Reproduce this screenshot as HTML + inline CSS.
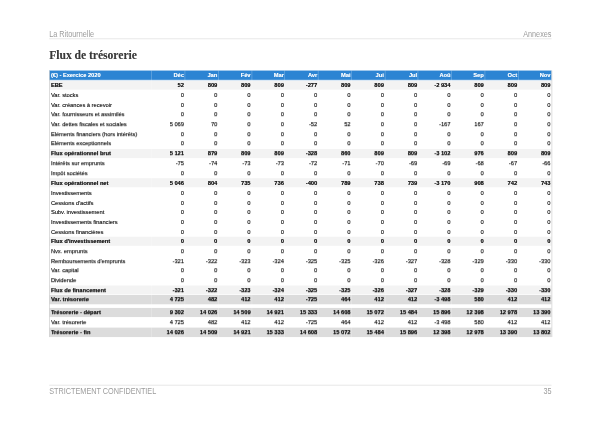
<!DOCTYPE html>
<html><head><meta charset="utf-8"><style>
html,body{margin:0;padding:0;background:#fff;}
body{width:600px;height:424px;position:relative;overflow:hidden;font-family:"Liberation Sans",sans-serif;text-rendering:auto;}
#pg{position:absolute;left:0;top:0;width:842.000px;height:595.013px;transform-origin:0 0;transform:scale(0.712589);filter:blur(0.3px);will-change:auto;}
.a{position:absolute;white-space:nowrap;line-height:1;}
.hd{font-size:10.230px;color:#9c9c9c;transform:scaleY(1.12);transform-origin:0 85%;text-shadow:none;}
.ln{position:absolute;left:69.184px;width:704.754px;height:0.772px;background:#dedede;}
.ttl{font-family:"Liberation Serif",serif;font-weight:bold;font-size:16.209px;color:#383838;text-shadow:0.3px 0 0 rgba(0,0,0,0.3);}
.r{position:absolute;left:69.184px;width:704.754px;}
.r span{position:absolute;white-space:nowrap;line-height:1;}
.tb{font-size:7.999px;color:#1a1a1a;text-shadow:0.5px 0 0 rgba(0,0,0,0.35), 0 0.8px 0 rgba(0,0,0,0.3);}
.tb .b span,.tb .t span{text-shadow:0.35px 0 0 rgba(0,0,0,0.45), 0 0.5px 0 rgba(0,0,0,0.3);}
.tb .hr span{text-shadow:0.3px 0 0 rgba(255,255,255,0.5);}
.hr{background:#2c84d3;color:#fff;font-weight:bold;}
.b{background:#f3f3f3;font-weight:bold;}
.t{background:#dcdcdc;font-weight:bold;}
.sp{position:absolute;background:rgba(255,255,255,0.3);}
</style></head><body><div id="wr" style="position:absolute;left:0;top:0;width:600px;height:424px;filter:none;"><div id="pg">
<div class="a hd" style="left:69.044px;top:44.065px;">La Ritournelle</div>
<div class="a hd" style="right:68.062px;top:44.065px;">Annexes</div>
<div class="ln" style="top:53.958px;"></div>
<div class="a ttl" style="left:69.184px;top:70.307px;">Flux de trésorerie</div>
<div class="tb">
<div class="r hr" style="top:98.865px;height:13.963px;"><span style="left:2.245px;top:2.982px;">(€) - Exercice 2020</span><span style="right:515.842px;top:2.982px;">Déc</span><span style="right:469.088px;top:2.982px;">Jan</span><span style="right:422.333px;top:2.982px;">Fév</span><span style="right:375.579px;top:2.982px;">Mar</span><span style="right:328.824px;top:2.982px;">Avr</span><span style="right:282.070px;top:2.982px;">Mai</span><span style="right:235.316px;top:2.982px;">Jui</span><span style="right:188.561px;top:2.982px;">Jul</span><span style="right:141.807px;top:2.982px;">Aoû</span><span style="right:95.052px;top:2.982px;">Sep</span><span style="right:48.298px;top:2.982px;">Oct</span><span style="right:1.544px;top:2.982px;">Nov</span></div>
<div class="r b" style="top:112.828px;height:13.675px;"><span style="left:2.245px;top:3.610px;">EBE</span><span style="right:515.842px;top:3.610px;">52</span><span style="right:469.088px;top:3.610px;">809</span><span style="right:422.333px;top:3.610px;">809</span><span style="right:375.579px;top:3.610px;">809</span><span style="right:328.824px;top:3.610px;">-277</span><span style="right:282.070px;top:3.610px;">809</span><span style="right:235.316px;top:3.610px;">809</span><span style="right:188.561px;top:3.610px;">809</span><span style="right:141.807px;top:3.610px;">-2 934</span><span style="right:95.052px;top:3.610px;">809</span><span style="right:48.298px;top:3.610px;">809</span><span style="right:1.544px;top:3.610px;">809</span></div>
<div class="r " style="top:126.503px;height:13.675px;"><span style="left:2.245px;top:3.610px;">Var. stocks</span><span style="right:515.842px;top:3.610px;">0</span><span style="right:469.088px;top:3.610px;">0</span><span style="right:422.333px;top:3.610px;">0</span><span style="right:375.579px;top:3.610px;">0</span><span style="right:328.824px;top:3.610px;">0</span><span style="right:282.070px;top:3.610px;">0</span><span style="right:235.316px;top:3.610px;">0</span><span style="right:188.561px;top:3.610px;">0</span><span style="right:141.807px;top:3.610px;">0</span><span style="right:95.052px;top:3.610px;">0</span><span style="right:48.298px;top:3.610px;">0</span><span style="right:1.544px;top:3.610px;">0</span></div>
<div class="r " style="top:140.179px;height:13.675px;"><span style="left:2.245px;top:3.610px;">Var. créances à recevoir</span><span style="right:515.842px;top:3.610px;">0</span><span style="right:469.088px;top:3.610px;">0</span><span style="right:422.333px;top:3.610px;">0</span><span style="right:375.579px;top:3.610px;">0</span><span style="right:328.824px;top:3.610px;">0</span><span style="right:282.070px;top:3.610px;">0</span><span style="right:235.316px;top:3.610px;">0</span><span style="right:188.561px;top:3.610px;">0</span><span style="right:141.807px;top:3.610px;">0</span><span style="right:95.052px;top:3.610px;">0</span><span style="right:48.298px;top:3.610px;">0</span><span style="right:1.544px;top:3.610px;">0</span></div>
<div class="r " style="top:153.854px;height:13.675px;"><span style="left:2.245px;top:3.610px;">Var. fournisseurs et assimilés</span><span style="right:515.842px;top:3.610px;">0</span><span style="right:469.088px;top:3.610px;">0</span><span style="right:422.333px;top:3.610px;">0</span><span style="right:375.579px;top:3.610px;">0</span><span style="right:328.824px;top:3.610px;">0</span><span style="right:282.070px;top:3.610px;">0</span><span style="right:235.316px;top:3.610px;">0</span><span style="right:188.561px;top:3.610px;">0</span><span style="right:141.807px;top:3.610px;">0</span><span style="right:95.052px;top:3.610px;">0</span><span style="right:48.298px;top:3.610px;">0</span><span style="right:1.544px;top:3.610px;">0</span></div>
<div class="r " style="top:167.530px;height:13.675px;"><span style="left:2.245px;top:3.610px;">Var. dettes fiscales et sociales</span><span style="right:515.842px;top:3.610px;">5 069</span><span style="right:469.088px;top:3.610px;">70</span><span style="right:422.333px;top:3.610px;">0</span><span style="right:375.579px;top:3.610px;">0</span><span style="right:328.824px;top:3.610px;">-52</span><span style="right:282.070px;top:3.610px;">52</span><span style="right:235.316px;top:3.610px;">0</span><span style="right:188.561px;top:3.610px;">0</span><span style="right:141.807px;top:3.610px;">-167</span><span style="right:95.052px;top:3.610px;">167</span><span style="right:48.298px;top:3.610px;">0</span><span style="right:1.544px;top:3.610px;">0</span></div>
<div class="r " style="top:181.205px;height:13.675px;"><span style="left:2.245px;top:3.610px;">Eléments financiers (hors intérêts)</span><span style="right:515.842px;top:3.610px;">0</span><span style="right:469.088px;top:3.610px;">0</span><span style="right:422.333px;top:3.610px;">0</span><span style="right:375.579px;top:3.610px;">0</span><span style="right:328.824px;top:3.610px;">0</span><span style="right:282.070px;top:3.610px;">0</span><span style="right:235.316px;top:3.610px;">0</span><span style="right:188.561px;top:3.610px;">0</span><span style="right:141.807px;top:3.610px;">0</span><span style="right:95.052px;top:3.610px;">0</span><span style="right:48.298px;top:3.610px;">0</span><span style="right:1.544px;top:3.610px;">0</span></div>
<div class="r " style="top:194.881px;height:13.675px;"><span style="left:2.245px;top:3.610px;">Eléments exceptionnels</span><span style="right:515.842px;top:3.610px;">0</span><span style="right:469.088px;top:3.610px;">0</span><span style="right:422.333px;top:3.610px;">0</span><span style="right:375.579px;top:3.610px;">0</span><span style="right:328.824px;top:3.610px;">0</span><span style="right:282.070px;top:3.610px;">0</span><span style="right:235.316px;top:3.610px;">0</span><span style="right:188.561px;top:3.610px;">0</span><span style="right:141.807px;top:3.610px;">0</span><span style="right:95.052px;top:3.610px;">0</span><span style="right:48.298px;top:3.610px;">0</span><span style="right:1.544px;top:3.610px;">0</span></div>
<div class="r b" style="top:208.556px;height:13.675px;"><span style="left:2.245px;top:3.610px;">Flux opérationnel brut</span><span style="right:515.842px;top:3.610px;">5 121</span><span style="right:469.088px;top:3.610px;">879</span><span style="right:422.333px;top:3.610px;">809</span><span style="right:375.579px;top:3.610px;">809</span><span style="right:328.824px;top:3.610px;">-328</span><span style="right:282.070px;top:3.610px;">860</span><span style="right:235.316px;top:3.610px;">809</span><span style="right:188.561px;top:3.610px;">809</span><span style="right:141.807px;top:3.610px;">-3 102</span><span style="right:95.052px;top:3.610px;">976</span><span style="right:48.298px;top:3.610px;">809</span><span style="right:1.544px;top:3.610px;">809</span></div>
<div class="r " style="top:222.232px;height:13.675px;"><span style="left:2.245px;top:3.610px;">Intérêts sur emprunts</span><span style="right:515.842px;top:3.610px;">-75</span><span style="right:469.088px;top:3.610px;">-74</span><span style="right:422.333px;top:3.610px;">-73</span><span style="right:375.579px;top:3.610px;">-73</span><span style="right:328.824px;top:3.610px;">-72</span><span style="right:282.070px;top:3.610px;">-71</span><span style="right:235.316px;top:3.610px;">-70</span><span style="right:188.561px;top:3.610px;">-69</span><span style="right:141.807px;top:3.610px;">-69</span><span style="right:95.052px;top:3.610px;">-68</span><span style="right:48.298px;top:3.610px;">-67</span><span style="right:1.544px;top:3.610px;">-66</span></div>
<div class="r " style="top:235.907px;height:13.675px;"><span style="left:2.245px;top:3.610px;">Impôt sociétés</span><span style="right:515.842px;top:3.610px;">0</span><span style="right:469.088px;top:3.610px;">0</span><span style="right:422.333px;top:3.610px;">0</span><span style="right:375.579px;top:3.610px;">0</span><span style="right:328.824px;top:3.610px;">0</span><span style="right:282.070px;top:3.610px;">0</span><span style="right:235.316px;top:3.610px;">0</span><span style="right:188.561px;top:3.610px;">0</span><span style="right:141.807px;top:3.610px;">0</span><span style="right:95.052px;top:3.610px;">0</span><span style="right:48.298px;top:3.610px;">0</span><span style="right:1.544px;top:3.610px;">0</span></div>
<div class="r b" style="top:249.583px;height:13.675px;"><span style="left:2.245px;top:3.610px;">Flux opérationnel net</span><span style="right:515.842px;top:3.610px;">5 046</span><span style="right:469.088px;top:3.610px;">804</span><span style="right:422.333px;top:3.610px;">735</span><span style="right:375.579px;top:3.610px;">736</span><span style="right:328.824px;top:3.610px;">-400</span><span style="right:282.070px;top:3.610px;">789</span><span style="right:235.316px;top:3.610px;">738</span><span style="right:188.561px;top:3.610px;">739</span><span style="right:141.807px;top:3.610px;">-3 170</span><span style="right:95.052px;top:3.610px;">908</span><span style="right:48.298px;top:3.610px;">742</span><span style="right:1.544px;top:3.610px;">743</span></div>
<div class="r " style="top:263.258px;height:13.675px;"><span style="left:2.245px;top:3.610px;">Investissements</span><span style="right:515.842px;top:3.610px;">0</span><span style="right:469.088px;top:3.610px;">0</span><span style="right:422.333px;top:3.610px;">0</span><span style="right:375.579px;top:3.610px;">0</span><span style="right:328.824px;top:3.610px;">0</span><span style="right:282.070px;top:3.610px;">0</span><span style="right:235.316px;top:3.610px;">0</span><span style="right:188.561px;top:3.610px;">0</span><span style="right:141.807px;top:3.610px;">0</span><span style="right:95.052px;top:3.610px;">0</span><span style="right:48.298px;top:3.610px;">0</span><span style="right:1.544px;top:3.610px;">0</span></div>
<div class="r " style="top:276.934px;height:13.675px;"><span style="left:2.245px;top:3.610px;">Cessions d'actifs</span><span style="right:515.842px;top:3.610px;">0</span><span style="right:469.088px;top:3.610px;">0</span><span style="right:422.333px;top:3.610px;">0</span><span style="right:375.579px;top:3.610px;">0</span><span style="right:328.824px;top:3.610px;">0</span><span style="right:282.070px;top:3.610px;">0</span><span style="right:235.316px;top:3.610px;">0</span><span style="right:188.561px;top:3.610px;">0</span><span style="right:141.807px;top:3.610px;">0</span><span style="right:95.052px;top:3.610px;">0</span><span style="right:48.298px;top:3.610px;">0</span><span style="right:1.544px;top:3.610px;">0</span></div>
<div class="r " style="top:290.609px;height:13.675px;"><span style="left:2.245px;top:3.610px;">Subv. investissement</span><span style="right:515.842px;top:3.610px;">0</span><span style="right:469.088px;top:3.610px;">0</span><span style="right:422.333px;top:3.610px;">0</span><span style="right:375.579px;top:3.610px;">0</span><span style="right:328.824px;top:3.610px;">0</span><span style="right:282.070px;top:3.610px;">0</span><span style="right:235.316px;top:3.610px;">0</span><span style="right:188.561px;top:3.610px;">0</span><span style="right:141.807px;top:3.610px;">0</span><span style="right:95.052px;top:3.610px;">0</span><span style="right:48.298px;top:3.610px;">0</span><span style="right:1.544px;top:3.610px;">0</span></div>
<div class="r " style="top:304.285px;height:13.675px;"><span style="left:2.245px;top:3.610px;">Investissements financiers</span><span style="right:515.842px;top:3.610px;">0</span><span style="right:469.088px;top:3.610px;">0</span><span style="right:422.333px;top:3.610px;">0</span><span style="right:375.579px;top:3.610px;">0</span><span style="right:328.824px;top:3.610px;">0</span><span style="right:282.070px;top:3.610px;">0</span><span style="right:235.316px;top:3.610px;">0</span><span style="right:188.561px;top:3.610px;">0</span><span style="right:141.807px;top:3.610px;">0</span><span style="right:95.052px;top:3.610px;">0</span><span style="right:48.298px;top:3.610px;">0</span><span style="right:1.544px;top:3.610px;">0</span></div>
<div class="r " style="top:317.960px;height:13.675px;"><span style="left:2.245px;top:3.610px;">Cessions financières</span><span style="right:515.842px;top:3.610px;">0</span><span style="right:469.088px;top:3.610px;">0</span><span style="right:422.333px;top:3.610px;">0</span><span style="right:375.579px;top:3.610px;">0</span><span style="right:328.824px;top:3.610px;">0</span><span style="right:282.070px;top:3.610px;">0</span><span style="right:235.316px;top:3.610px;">0</span><span style="right:188.561px;top:3.610px;">0</span><span style="right:141.807px;top:3.610px;">0</span><span style="right:95.052px;top:3.610px;">0</span><span style="right:48.298px;top:3.610px;">0</span><span style="right:1.544px;top:3.610px;">0</span></div>
<div class="r b" style="top:331.636px;height:13.675px;"><span style="left:2.245px;top:3.610px;">Flux d'investissement</span><span style="right:515.842px;top:3.610px;">0</span><span style="right:469.088px;top:3.610px;">0</span><span style="right:422.333px;top:3.610px;">0</span><span style="right:375.579px;top:3.610px;">0</span><span style="right:328.824px;top:3.610px;">0</span><span style="right:282.070px;top:3.610px;">0</span><span style="right:235.316px;top:3.610px;">0</span><span style="right:188.561px;top:3.610px;">0</span><span style="right:141.807px;top:3.610px;">0</span><span style="right:95.052px;top:3.610px;">0</span><span style="right:48.298px;top:3.610px;">0</span><span style="right:1.544px;top:3.610px;">0</span></div>
<div class="r " style="top:345.311px;height:13.675px;"><span style="left:2.245px;top:3.610px;">Nvx. emprunts</span><span style="right:515.842px;top:3.610px;">0</span><span style="right:469.088px;top:3.610px;">0</span><span style="right:422.333px;top:3.610px;">0</span><span style="right:375.579px;top:3.610px;">0</span><span style="right:328.824px;top:3.610px;">0</span><span style="right:282.070px;top:3.610px;">0</span><span style="right:235.316px;top:3.610px;">0</span><span style="right:188.561px;top:3.610px;">0</span><span style="right:141.807px;top:3.610px;">0</span><span style="right:95.052px;top:3.610px;">0</span><span style="right:48.298px;top:3.610px;">0</span><span style="right:1.544px;top:3.610px;">0</span></div>
<div class="r " style="top:358.987px;height:13.675px;"><span style="left:2.245px;top:3.610px;">Remboursements d'emprunts</span><span style="right:515.842px;top:3.610px;">-321</span><span style="right:469.088px;top:3.610px;">-322</span><span style="right:422.333px;top:3.610px;">-323</span><span style="right:375.579px;top:3.610px;">-324</span><span style="right:328.824px;top:3.610px;">-325</span><span style="right:282.070px;top:3.610px;">-325</span><span style="right:235.316px;top:3.610px;">-326</span><span style="right:188.561px;top:3.610px;">-327</span><span style="right:141.807px;top:3.610px;">-328</span><span style="right:95.052px;top:3.610px;">-329</span><span style="right:48.298px;top:3.610px;">-330</span><span style="right:1.544px;top:3.610px;">-330</span></div>
<div class="r " style="top:372.662px;height:13.675px;"><span style="left:2.245px;top:3.610px;">Var. capital</span><span style="right:515.842px;top:3.610px;">0</span><span style="right:469.088px;top:3.610px;">0</span><span style="right:422.333px;top:3.610px;">0</span><span style="right:375.579px;top:3.610px;">0</span><span style="right:328.824px;top:3.610px;">0</span><span style="right:282.070px;top:3.610px;">0</span><span style="right:235.316px;top:3.610px;">0</span><span style="right:188.561px;top:3.610px;">0</span><span style="right:141.807px;top:3.610px;">0</span><span style="right:95.052px;top:3.610px;">0</span><span style="right:48.298px;top:3.610px;">0</span><span style="right:1.544px;top:3.610px;">0</span></div>
<div class="r " style="top:386.338px;height:13.675px;"><span style="left:2.245px;top:3.610px;">Dividende</span><span style="right:515.842px;top:3.610px;">0</span><span style="right:469.088px;top:3.610px;">0</span><span style="right:422.333px;top:3.610px;">0</span><span style="right:375.579px;top:3.610px;">0</span><span style="right:328.824px;top:3.610px;">0</span><span style="right:282.070px;top:3.610px;">0</span><span style="right:235.316px;top:3.610px;">0</span><span style="right:188.561px;top:3.610px;">0</span><span style="right:141.807px;top:3.610px;">0</span><span style="right:95.052px;top:3.610px;">0</span><span style="right:48.298px;top:3.610px;">0</span><span style="right:1.544px;top:3.610px;">0</span></div>
<div class="r b" style="top:400.013px;height:13.675px;"><span style="left:2.245px;top:3.610px;">Flux de financement</span><span style="right:515.842px;top:3.610px;">-321</span><span style="right:469.088px;top:3.610px;">-322</span><span style="right:422.333px;top:3.610px;">-323</span><span style="right:375.579px;top:3.610px;">-324</span><span style="right:328.824px;top:3.610px;">-325</span><span style="right:282.070px;top:3.610px;">-325</span><span style="right:235.316px;top:3.610px;">-326</span><span style="right:188.561px;top:3.610px;">-327</span><span style="right:141.807px;top:3.610px;">-328</span><span style="right:95.052px;top:3.610px;">-329</span><span style="right:48.298px;top:3.610px;">-330</span><span style="right:1.544px;top:3.610px;">-330</span></div>
<div class="r t" style="top:413.689px;height:13.675px;"><span style="left:2.245px;top:3.610px;">Var. trésorerie</span><span style="right:515.842px;top:3.610px;">4 725</span><span style="right:469.088px;top:3.610px;">482</span><span style="right:422.333px;top:3.610px;">412</span><span style="right:375.579px;top:3.610px;">412</span><span style="right:328.824px;top:3.610px;">-725</span><span style="right:282.070px;top:3.610px;">464</span><span style="right:235.316px;top:3.610px;">412</span><span style="right:188.561px;top:3.610px;">412</span><span style="right:141.807px;top:3.610px;">-3 498</span><span style="right:95.052px;top:3.610px;">580</span><span style="right:48.298px;top:3.610px;">412</span><span style="right:1.544px;top:3.610px;">412</span></div>
<div class="r t" style="top:431.714px;height:13.675px;"><span style="left:2.245px;top:3.610px;">Trésorerie - départ</span><span style="right:515.842px;top:3.610px;">9 302</span><span style="right:469.088px;top:3.610px;">14 026</span><span style="right:422.333px;top:3.610px;">14 509</span><span style="right:375.579px;top:3.610px;">14 921</span><span style="right:328.824px;top:3.610px;">15 333</span><span style="right:282.070px;top:3.610px;">14 608</span><span style="right:235.316px;top:3.610px;">15 072</span><span style="right:188.561px;top:3.610px;">15 484</span><span style="right:141.807px;top:3.610px;">15 896</span><span style="right:95.052px;top:3.610px;">12 398</span><span style="right:48.298px;top:3.610px;">12 978</span><span style="right:1.544px;top:3.610px;">13 390</span></div>
<div class="r " style="top:445.390px;height:13.675px;"><span style="left:2.245px;top:3.610px;">Var. trésorerie</span><span style="right:515.842px;top:3.610px;">4 725</span><span style="right:469.088px;top:3.610px;">482</span><span style="right:422.333px;top:3.610px;">412</span><span style="right:375.579px;top:3.610px;">412</span><span style="right:328.824px;top:3.610px;">-725</span><span style="right:282.070px;top:3.610px;">464</span><span style="right:235.316px;top:3.610px;">412</span><span style="right:188.561px;top:3.610px;">412</span><span style="right:141.807px;top:3.610px;">-3 498</span><span style="right:95.052px;top:3.610px;">580</span><span style="right:48.298px;top:3.610px;">412</span><span style="right:1.544px;top:3.610px;">412</span></div>
<div class="r t" style="top:459.065px;height:13.675px;"><span style="left:2.245px;top:3.610px;">Trésorerie - fin</span><span style="right:515.842px;top:3.610px;">14 026</span><span style="right:469.088px;top:3.610px;">14 509</span><span style="right:422.333px;top:3.610px;">14 921</span><span style="right:375.579px;top:3.610px;">15 333</span><span style="right:328.824px;top:3.610px;">14 608</span><span style="right:282.070px;top:3.610px;">15 072</span><span style="right:235.316px;top:3.610px;">15 484</span><span style="right:188.561px;top:3.610px;">15 896</span><span style="right:141.807px;top:3.610px;">12 398</span><span style="right:95.052px;top:3.610px;">12 978</span><span style="right:48.298px;top:3.610px;">13 390</span><span style="right:1.544px;top:3.610px;">13 802</span></div>
<div class="sp" style="left:212.324px;top:98.865px;width:1.123px;height:373.876px;"></div>
<div class="sp" style="left:259.079px;top:98.865px;width:1.123px;height:373.876px;"></div>
<div class="sp" style="left:305.833px;top:98.865px;width:1.123px;height:373.876px;"></div>
<div class="sp" style="left:352.588px;top:98.865px;width:1.123px;height:373.876px;"></div>
<div class="sp" style="left:399.342px;top:98.865px;width:1.123px;height:373.876px;"></div>
<div class="sp" style="left:446.096px;top:98.865px;width:1.123px;height:373.876px;"></div>
<div class="sp" style="left:492.851px;top:98.865px;width:1.123px;height:373.876px;"></div>
<div class="sp" style="left:539.605px;top:98.865px;width:1.123px;height:373.876px;"></div>
<div class="sp" style="left:586.360px;top:98.865px;width:1.123px;height:373.876px;"></div>
<div class="sp" style="left:633.114px;top:98.865px;width:1.123px;height:373.876px;"></div>
<div class="sp" style="left:679.868px;top:98.865px;width:1.123px;height:373.876px;"></div>
<div class="sp" style="left:726.623px;top:98.865px;width:1.123px;height:373.876px;"></div>
<div style="position:absolute;left:69.184px;top:112.337px;width:704.754px;height:0.982px;background:rgba(255,255,255,0.8);"></div>
<div style="position:absolute;left:69.184px;top:126.012px;width:704.754px;height:0.982px;background:rgba(255,255,255,0.8);"></div>
<div style="position:absolute;left:69.184px;top:139.688px;width:704.754px;height:0.982px;background:rgba(255,255,255,0.8);"></div>
<div style="position:absolute;left:69.184px;top:153.363px;width:704.754px;height:0.982px;background:rgba(255,255,255,0.8);"></div>
<div style="position:absolute;left:69.184px;top:167.039px;width:704.754px;height:0.982px;background:rgba(255,255,255,0.8);"></div>
<div style="position:absolute;left:69.184px;top:180.714px;width:704.754px;height:0.982px;background:rgba(255,255,255,0.8);"></div>
<div style="position:absolute;left:69.184px;top:194.390px;width:704.754px;height:0.982px;background:rgba(255,255,255,0.8);"></div>
<div style="position:absolute;left:69.184px;top:208.065px;width:704.754px;height:0.982px;background:rgba(255,255,255,0.8);"></div>
<div style="position:absolute;left:69.184px;top:221.741px;width:704.754px;height:0.982px;background:rgba(255,255,255,0.8);"></div>
<div style="position:absolute;left:69.184px;top:235.416px;width:704.754px;height:0.982px;background:rgba(255,255,255,0.8);"></div>
<div style="position:absolute;left:69.184px;top:249.092px;width:704.754px;height:0.982px;background:rgba(255,255,255,0.8);"></div>
<div style="position:absolute;left:69.184px;top:262.767px;width:704.754px;height:0.982px;background:rgba(255,255,255,0.8);"></div>
<div style="position:absolute;left:69.184px;top:276.443px;width:704.754px;height:0.982px;background:rgba(255,255,255,0.8);"></div>
<div style="position:absolute;left:69.184px;top:290.118px;width:704.754px;height:0.982px;background:rgba(255,255,255,0.8);"></div>
<div style="position:absolute;left:69.184px;top:303.794px;width:704.754px;height:0.982px;background:rgba(255,255,255,0.8);"></div>
<div style="position:absolute;left:69.184px;top:317.469px;width:704.754px;height:0.982px;background:rgba(255,255,255,0.8);"></div>
<div style="position:absolute;left:69.184px;top:331.145px;width:704.754px;height:0.982px;background:rgba(255,255,255,0.8);"></div>
<div style="position:absolute;left:69.184px;top:344.820px;width:704.754px;height:0.982px;background:rgba(255,255,255,0.8);"></div>
<div style="position:absolute;left:69.184px;top:358.496px;width:704.754px;height:0.982px;background:rgba(255,255,255,0.8);"></div>
<div style="position:absolute;left:69.184px;top:372.171px;width:704.754px;height:0.982px;background:rgba(255,255,255,0.8);"></div>
<div style="position:absolute;left:69.184px;top:385.847px;width:704.754px;height:0.982px;background:rgba(255,255,255,0.8);"></div>
<div style="position:absolute;left:69.184px;top:399.522px;width:704.754px;height:0.982px;background:rgba(255,255,255,0.8);"></div>
<div style="position:absolute;left:69.184px;top:413.198px;width:704.754px;height:0.982px;background:rgba(255,255,255,0.8);"></div>
<div style="position:absolute;left:69.184px;top:431.223px;width:704.754px;height:0.982px;background:rgba(255,255,255,0.8);"></div>
<div style="position:absolute;left:69.184px;top:444.899px;width:704.754px;height:0.982px;background:rgba(255,255,255,0.8);"></div>
<div style="position:absolute;left:69.184px;top:458.574px;width:704.754px;height:0.982px;background:rgba(255,255,255,0.8);"></div>
<div style="position:absolute;left:68.763px;top:98.865px;width:0.842px;height:373.876px;background:#d0d0d0;"></div>
<div style="position:absolute;left:773.517px;top:98.865px;width:0.842px;height:373.876px;background:#d0d0d0;"></div>
</div>
<div class="ln" style="top:540.283px;"></div>
<div class="a hd" style="left:69.044px;top:545.055px;">STRICTEMENT CONFIDENTIEL</div>
<div class="a hd" style="right:68.062px;top:545.055px;">35</div>
</div></div></body></html>
